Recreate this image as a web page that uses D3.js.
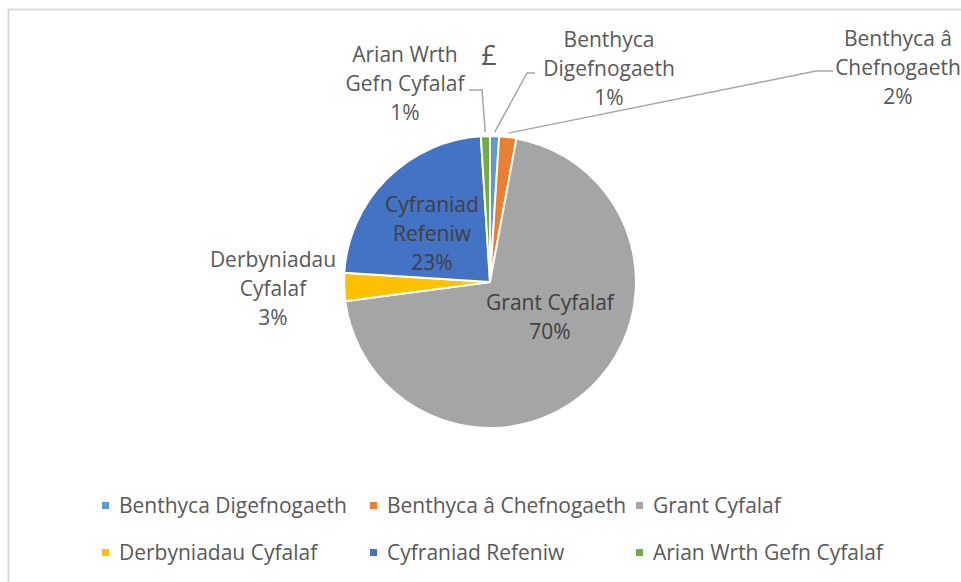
<!DOCTYPE html>
<html>
<head>
<meta charset="utf-8">
<script src="https://cdn.jsdelivr.net/npm/d3@7"></script>
<style>
    body { margin: 0; background: #fff; }
    svg { display: block; font-family: "Open Sans", sans-serif; }
</style>
</head>
<body>
<svg id="chart" width="961" height="582"></svg>
<script>
// Data (share of capital financing, %)
const categories = [
    "Benthyca Digefnogaeth",
    "Benthyca â Chefnogaeth",
    "Grant Cyfalaf",
    "Derbyniadau Cyfalaf",
    "Cyfraniad Refeniw",
    "Arian Wrth Gefn Cyfalaf"
];
const values = [1.0, 1.9, 70.0, 3.1, 23.0, 1.0];
const labels = ["1%", "2%", "70%", "3%", "23%", "1%"];
const colors = ["#5b9bd5", "#ed7d31", "#a5a5a5", "#ffc000", "#4472c4", "#70ad47"];
const title = "£";

// Label layout: where each data label sits, split into lines
const labelLayout = [
    {lines: ["Benthyca", "Digefnogaeth"], x: 609, y: 47, leader: [535, 73, 527]},
    {lines: ["Benthyca â", "Chefnogaeth"], x: 898, y: 46, leader: [833, 71, 816]},
    {lines: ["Grant Cyfalaf"], x: 550, y: 310, inside: true},
    {lines: ["Derbyniadau", "Cyfalaf"], x: 273, y: 267},
    {lines: ["Cyfraniad", "Refeniw"], x: 432, y: 212, inside: true},
    {lines: ["Arian Wrth", "Gefn Cyfalaf"], x: 405, y: 62, leader: [469, 90, 482]}
];

const data = categories.map((c, i) => ({name: c, value: values[i], label: labels[i], color: colors[i]}));

let svg = d3.select("#chart");
let center = {x: 490, y: 282};
let radius = 146;
let lineHeight = 29;
let fontSize = "21px";

// chart border (only top and left edges are in frame)
svg.append("path")
    .attr("d", "M8.5,590V9.5H970")
    .attr("fill", "none")
    .attr("stroke", "#d9d9d9")
    .attr("stroke-width", 2);

svg.append("text")
    .attr("x", 489)
    .attr("y", 65)
    .attr("text-anchor", "middle")
    .attr("fill", "#595959")
    .style("font-size", "27px")
    .text(title);

let pie = d3.pie().sort(null).value(d => d.value);
let arcs = pie(data);
let arc = d3.arc().innerRadius(0).outerRadius(radius);
let edgeArc = d3.arc().innerRadius(radius + 4).outerRadius(radius + 4);

let group = svg.append("g")
    .attr("transform", `translate(${center.x}, ${center.y})`);

group.selectAll(".slice")
    .data(arcs)
    .enter()
    .append("path")
    .attr("class", "slice")
    .attr("d", arc)
    .attr("fill", d => d.data.color)
    .attr("stroke", "#fff")
    .attr("stroke-width", 2);

// leader lines for the small outside labels
arcs.forEach((a, i) => {
    let lay = labelLayout[i];
    if (!lay.leader) return;
    let end = edgeArc.centroid(a);
    let [x0, y0, x1] = lay.leader;
    svg.append("polyline")
        .attr("points", `${x0},${y0} ${x1},${y0} ${center.x + end[0]},${center.y + end[1]}`)
        .attr("fill", "none")
        .attr("stroke", "#a6a6a6")
        .attr("stroke-width", 1.5);
});

// data labels: category name lines + percentage
arcs.forEach((a, i) => {
    let lay = labelLayout[i];
    let text = svg.append("text")
        .attr("text-anchor", "middle")
        .attr("fill", lay.inside ? "#404040" : "#595959")
        .style("font-size", fontSize);
    lay.lines.concat([a.data.label]).forEach((line, j) => {
        text.append("tspan")
            .attr("x", lay.x)
            .attr("y", lay.y + j * lineHeight)
            .text(line);
    });
});

// legend, two rows of three
let legendCols = [102, 370, 636];
let legendRows = [513, 560];
let legend = svg.selectAll(".legend")
    .data(data)
    .enter()
    .append("g")
    .attr("class", "legend")
    .attr("transform", (d, i) => `translate(${legendCols[i % 3]}, ${legendRows[Math.floor(i / 3)]})`);

legend.append("rect")
    .attr("x", 0)
    .attr("y", -11)
    .attr("width", 7)
    .attr("height", 7)
    .attr("fill", d => d.color);

legend.append("text")
    .attr("x", 17)
    .attr("y", 0)
    .attr("fill", "#595959")
    .style("font-size", fontSize)
    .text(d => d.name);
</script>
</body>
</html>
